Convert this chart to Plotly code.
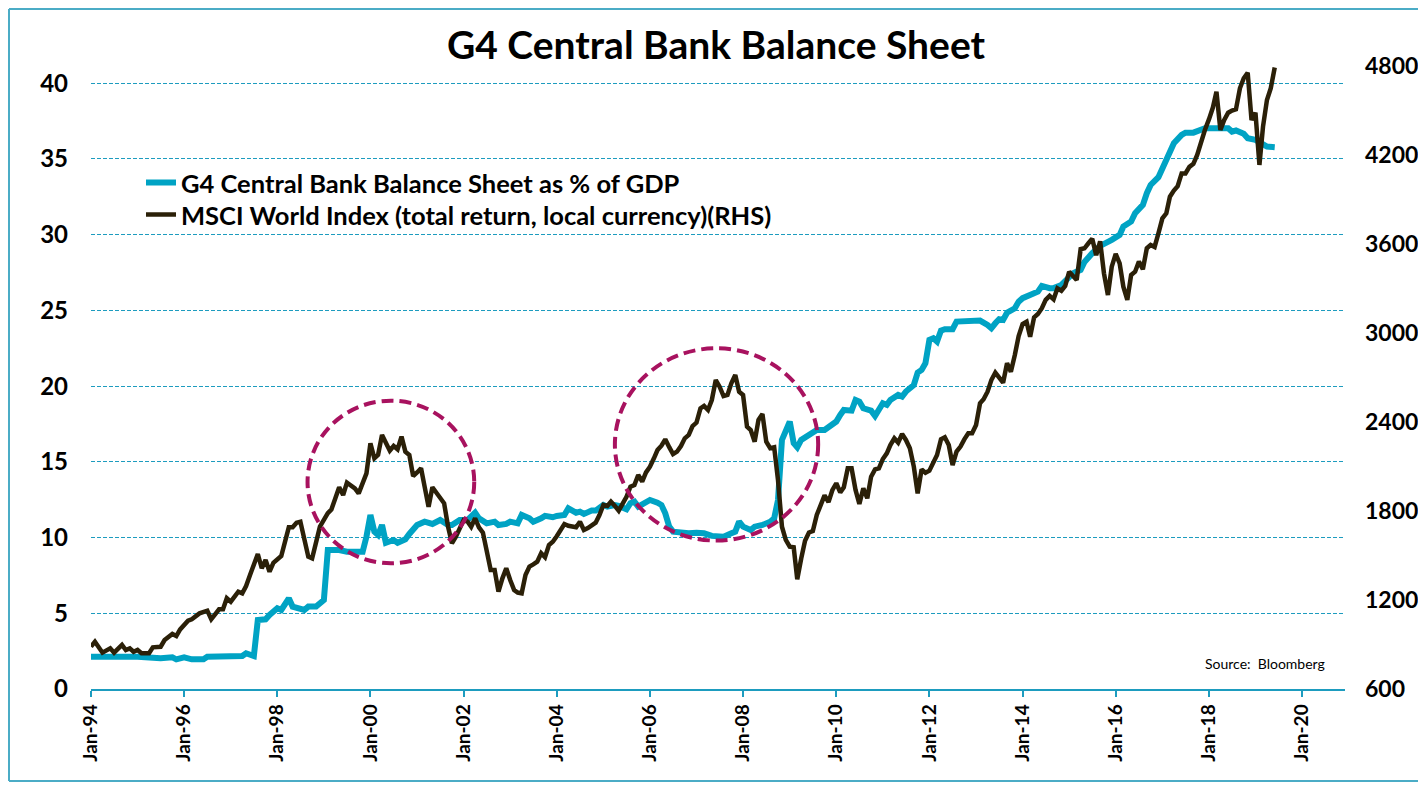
import plotly.graph_objs as go

TITLE = "G4 Central Bank Balance Sheet"
G4_NAME = "G4 Central Bank Balance Sheet as % of GDP"
MSCI_NAME = "MSCI World Index (total return, local currency)(RHS)"
SOURCE = "Source:  Bloomberg"

# G4 balance sheet, % of GDP (left axis)
G4_DATES = [
    "1994-01", "1994-08", "1995-01", "1995-07", "1995-10", "1995-11", "1996-01", "1996-03",
    "1996-06", "1996-07", "1996-12", "1997-04", "1997-05", "1997-07", "1997-08", "1997-10",
    "1997-11", "1998-01", "1998-02", "1998-04", "1998-05", "1998-06", "1998-08", "1998-09",
    "1998-11", "1999-01", "1999-02", "1999-05", "1999-07", "1999-11", "1999-12", "2000-01",
    "2000-02", "2000-03", "2000-04", "2000-05", "2000-07", "2000-08", "2000-10", "2000-11",
    "2001-01", "2001-03", "2001-05", "2001-07", "2001-09", "2001-10", "2001-12", "2002-02",
    "2002-04", "2002-05", "2002-06", "2002-07", "2002-09", "2002-10", "2002-12", "2003-01",
    "2003-03", "2003-04", "2003-06", "2003-07", "2003-09", "2003-10", "2003-12", "2004-01",
    "2004-03", "2004-04", "2004-06", "2004-07", "2004-08", "2004-10", "2004-11", "2005-01",
    "2005-02", "2005-04", "2005-05", "2005-07", "2005-08", "2005-09", "2005-10", "2005-12",
    "2006-01", "2006-03", "2006-04", "2006-05", "2006-06", "2006-07", "2006-09", "2006-11",
    "2007-01", "2007-03", "2007-05", "2007-07", "2007-08", "2007-10", "2007-11", "2007-12",
    "2008-01", "2008-03", "2008-04", "2008-06", "2008-08", "2008-09", "2008-10", "2008-11",
    "2008-12", "2009-01", "2009-02", "2009-03", "2009-04", "2009-06", "2009-08", "2009-10",
    "2009-11", "2010-01", "2010-02", "2010-03", "2010-05", "2010-06", "2010-07", "2010-08",
    "2010-10", "2010-11", "2011-01", "2011-02", "2011-03", "2011-05", "2011-06", "2011-07",
    "2011-09", "2011-10", "2011-11", "2011-12", "2012-01", "2012-02", "2012-03", "2012-04",
    "2012-05", "2012-07", "2012-08", "2012-10", "2012-11", "2013-01", "2013-02", "2013-04",
    "2013-05", "2013-06", "2013-07", "2013-08", "2013-09", "2013-11", "2013-12", "2014-01",
    "2014-03", "2014-04", "2014-05", "2014-06", "2014-08", "2014-09", "2014-11", "2015-01",
    "2015-02", "2015-04", "2015-05", "2015-07", "2015-09", "2015-12", "2016-02", "2016-03",
    "2016-05", "2016-06", "2016-08", "2016-09", "2016-10", "2016-12", "2017-01", "2017-02",
    "2017-03", "2017-04", "2017-06", "2017-07", "2017-09", "2017-11", "2017-12", "2018-03",
    "2018-04", "2018-06", "2018-07", "2018-08", "2018-10", "2018-11", "2019-01", "2019-03",
    "2019-04", "2019-06",
]
G4_VALUES = [
    2.13, 2.18, 2.13, 2.03, 2.09, 1.96, 2.09, 1.96,
    1.96, 2.13, 2.18, 2.18, 2.36, 2.18, 4.56, 4.60,
    4.89, 5.33, 5.22, 5.99, 5.44, 5.33, 5.22, 5.44,
    5.44, 5.88, 9.18, 9.18, 9.07, 9.07, 10.06, 11.49,
    10.39, 10.17, 10.83, 9.66, 9.84, 9.66, 9.89, 10.24,
    10.83, 11.05, 10.90, 11.16, 10.83, 10.83, 11.16, 11.16,
    11.64, 11.27, 11.05, 10.94, 11.05, 10.83, 10.90, 11.05,
    10.94, 11.49, 11.27, 11.05, 11.27, 11.43, 11.34, 11.43,
    11.49, 11.93, 11.64, 11.71, 11.56, 11.78, 11.78, 12.15,
    12.04, 12.15, 12.09, 11.87, 12.27, 12.37, 12.04, 12.27,
    12.48, 12.30, 12.15, 11.60, 10.72, 10.39, 10.32, 10.28,
    10.32, 10.28, 10.11, 10.06, 10.06, 10.28, 10.39, 11.05,
    10.72, 10.50, 10.72, 10.83, 11.05, 11.27, 12.48, 16.45,
    17.00, 17.66, 16.23, 15.96, 16.45, 16.78, 17.11, 17.11,
    17.33, 17.66, 18.10, 18.43, 18.38, 19.09, 18.98, 18.54,
    18.38, 18.03, 18.87, 18.76, 19.09, 19.42, 19.31, 19.64,
    20.08, 20.89, 21.07, 21.51, 23.05, 23.16, 22.94, 23.67,
    23.76, 23.76, 24.26, 24.26, 24.26, 24.33, 24.33, 24.04,
    23.82, 24.15, 24.42, 24.37, 24.85, 25.14, 25.58, 25.81,
    25.96, 26.14, 26.24, 26.62, 26.47, 26.47, 26.68, 27.13,
    27.46, 27.68, 28.20, 28.78, 29.26, 29.66, 29.99, 30.54,
    30.87, 31.42, 31.97, 32.74, 33.29, 33.80, 34.39, 34.94,
    35.42, 36.04, 36.59, 36.74, 36.74, 36.92, 37.03, 37.03,
    37.03, 37.03, 36.81, 36.88, 36.66, 36.37, 36.26, 36.04,
    35.82, 35.78,
]

# MSCI World total return index (right axis)
MSCI_DATES = [
    "1994-01", "1994-02", "1994-04", "1994-06", "1994-07", "1994-09", "1994-10", "1994-11",
    "1994-12", "1995-01", "1995-02", "1995-04", "1995-05", "1995-07", "1995-08", "1995-10",
    "1995-11", "1995-12", "1996-02", "1996-03", "1996-05", "1996-07", "1996-08", "1996-09",
    "1996-10", "1996-11", "1996-12", "1997-01", "1997-03", "1997-04", "1997-05", "1997-06",
    "1997-08", "1997-09", "1997-10", "1997-11", "1997-12", "1998-02", "1998-03", "1998-04",
    "1998-05", "1998-06", "1998-07", "1998-09", "1998-10", "1998-12", "1999-02", "1999-03",
    "1999-04", "1999-05", "1999-06", "1999-07", "1999-09", "1999-10", "1999-12", "2000-01",
    "2000-02", "2000-03", "2000-04", "2000-05", "2000-06", "2000-07", "2000-08", "2000-09",
    "2000-10", "2000-11", "2000-12", "2001-01", "2001-02", "2001-03", "2001-04", "2001-05",
    "2001-06", "2001-07", "2001-08", "2001-09", "2001-10", "2001-11", "2002-01", "2002-02",
    "2002-03", "2002-04", "2002-05", "2002-06", "2002-07", "2002-08", "2002-09", "2002-10",
    "2002-11", "2002-12", "2003-01", "2003-02", "2003-03", "2003-04", "2003-05", "2003-06",
    "2003-07", "2003-08", "2003-09", "2003-10", "2003-11", "2003-12", "2004-01", "2004-02",
    "2004-03", "2004-04", "2004-05", "2004-06", "2004-07", "2004-08", "2004-09", "2004-10",
    "2004-11", "2004-12", "2005-01", "2005-02", "2005-03", "2005-04", "2005-05", "2005-06",
    "2005-07", "2005-08", "2005-09", "2005-10", "2005-11", "2005-12", "2006-01", "2006-02",
    "2006-03", "2006-04", "2006-05", "2006-06", "2006-07", "2006-08", "2006-09", "2006-10",
    "2006-11", "2006-12", "2007-01", "2007-02", "2007-03", "2007-04", "2007-05", "2007-06",
    "2007-07", "2007-08", "2007-09", "2007-10", "2007-11", "2007-12", "2008-01", "2008-02",
    "2008-03", "2008-04", "2008-05", "2008-06", "2008-07", "2008-08", "2008-09", "2008-10",
    "2008-11", "2008-12", "2009-01", "2009-02", "2009-03", "2009-04", "2009-05", "2009-06",
    "2009-07", "2009-08", "2009-09", "2009-10", "2009-11", "2009-12", "2010-01", "2010-02",
    "2010-03", "2010-04", "2010-05", "2010-06", "2010-07", "2010-08", "2010-09", "2010-10",
    "2010-11", "2010-12", "2011-01", "2011-02", "2011-03", "2011-04", "2011-05", "2011-06",
    "2011-07", "2011-08", "2011-09", "2011-10", "2011-11", "2011-12", "2012-01", "2012-02",
    "2012-03", "2012-04", "2012-05", "2012-06", "2012-07", "2012-08", "2012-09", "2012-10",
    "2012-11", "2012-12", "2013-01", "2013-02", "2013-03", "2013-04", "2013-05", "2013-06",
    "2013-07", "2013-08", "2013-09", "2013-10", "2013-11", "2013-12", "2014-01", "2014-02",
    "2014-03", "2014-04", "2014-05", "2014-06", "2014-07", "2014-08", "2014-09", "2014-10",
    "2014-11", "2014-12", "2015-01", "2015-02", "2015-03", "2015-04", "2015-05", "2015-06",
    "2015-07", "2015-08", "2015-09", "2015-10", "2015-11", "2015-12", "2016-01", "2016-02",
    "2016-03", "2016-04", "2016-05", "2016-06", "2016-07", "2016-08", "2016-09", "2016-10",
    "2016-11", "2016-12", "2017-01", "2017-02", "2017-03", "2017-04", "2017-05", "2017-06",
    "2017-07", "2017-08", "2017-09", "2017-10", "2017-11", "2017-12", "2018-01", "2018-02",
    "2018-03", "2018-04", "2018-05", "2018-06", "2018-07", "2018-08", "2018-09", "2018-10",
    "2018-11", "2018-12", "2019-01", "2019-02", "2019-03", "2019-04", "2019-05", "2019-06",
]
MSCI_VALUES = [
    885, 919, 845, 874, 845, 897, 863, 874,
    851, 863, 841, 841, 881, 885, 930, 971,
    957, 1002, 1060, 1070, 1110, 1128, 1070, 1099,
    1137, 1137, 1212, 1189, 1256, 1245, 1294, 1369,
    1510, 1414, 1470, 1391, 1451, 1497, 1605, 1690,
    1690, 1721, 1728, 1492, 1481, 1694, 1785, 1810,
    1886, 1960, 1908, 1991, 1953, 1919, 2054, 2256,
    2155, 2178, 2313, 2252, 2207, 2238, 2216, 2301,
    2200, 2178, 2036, 2060, 2088, 1964, 1829, 1960,
    1919, 1890, 1852, 1694, 1582, 1627, 1739, 1728,
    1694, 1751, 1690, 1654, 1515, 1402, 1402, 1256,
    1346, 1414, 1335, 1267, 1250, 1245, 1369, 1425,
    1440, 1458, 1515, 1488, 1571, 1593, 1630, 1672,
    1712, 1700, 1694, 1690, 1728, 1672, 1685, 1700,
    1721, 1773, 1841, 1834, 1863, 1834, 1802, 1850,
    1896, 1964, 1975, 2043, 1998, 2060, 2099, 2155,
    2211, 2240, 2283, 2230, 2184, 2200, 2238, 2290,
    2313, 2373, 2396, 2492, 2508, 2481, 2548, 2683,
    2638, 2575, 2582, 2661, 2717, 2604, 2582, 2368,
    2346, 2267, 2414, 2454, 2267, 2223, 2229, 2009,
    1694, 1605, 1559, 1555, 1340, 1480, 1600, 1655,
    1665, 1773, 1834, 1905, 1860, 1940, 1987, 1925,
    1960, 2088, 2088, 1942, 1847, 1953, 1886, 2031,
    2081, 2088, 2150, 2189, 2245, 2290, 2261, 2319,
    2279, 2223, 2099, 1919, 2081, 2058, 2072, 2130,
    2178, 2283, 2297, 2245, 2110, 2200, 2234, 2283,
    2324, 2324, 2380, 2526, 2553, 2604, 2683, 2733,
    2700, 2665, 2796, 2739, 2852, 2980, 3060, 3076,
    2975, 3105, 3128, 3167, 3223, 3250, 3227, 3301,
    3285, 3317, 3413, 3384, 3357, 3565, 3571, 3605,
    3635, 3525, 3618, 3402, 3256, 3447, 3533, 3470,
    3312, 3223, 3391, 3413, 3481, 3430, 3571, 3593,
    3580, 3672, 3773, 3807, 3919, 3960, 3990, 4076,
    4076, 4120, 4140, 4200, 4290, 4370, 4440, 4520,
    4627, 4369, 4436, 4485, 4500, 4508, 4650, 4717,
    4755, 4436, 4485, 4133, 4391, 4571, 4650, 4790,
]

FONT = "Lato"
TEAL = "#00a3c4"
DARK = "#2b2008"
GRID = "#1d9cbf"
CIRCLE = "#a8125f"
FRAME = "#4bacc6"

# page body has an 8px margin on every side; keep the page inside the window
OFF = 8
W, H = 1426 - 2 * OFF, 790 - 2 * OFF
# plot area in window pixels: left 91, right 1345, top 66, bottom 689
L, R, T, B = 91 - OFF, 1345 - OFF, 66 - OFF, 689 - OFF


def px_x(p):
    # window pixel -> paper x
    return (p - OFF - L) / (R - L)


def px_y(p):
    # window pixel -> paper y
    return (B - (p - OFF)) / (B - T)


fig = go.Figure()
fig.add_trace(go.Scatter(
    x=G4_DATES, y=G4_VALUES, name=G4_NAME, mode="lines",
    line=dict(color=TEAL, width=6), legend="legend",
))
fig.add_trace(go.Scatter(
    x=MSCI_DATES, y=MSCI_VALUES, name=MSCI_NAME, mode="lines", yaxis="y2",
    line=dict(color=DARK, width=4.5), legend="legend2",
))

# the two highlighted regions
for x0, x1, y0, y1 in [("1998-08-26", "2002-03-25", 8.3, 19.04),
                       ("2005-04-01", "2009-08-12", 9.8, 22.5)]:
    fig.add_shape(type="circle", xref="x", yref="y", x0=x0, x1=x1, y0=y0, y1=y1,
                  line=dict(color=CIRCLE, width=4, dash="12px,6px"), layer="above")

# outer frame: left, top and bottom edges, as close to the page edge as the figure allows
left, top, right, bottom = px_x(9), px_y(9), px_x(1418), px_y(OFF + H - 1)
for x0, y0, x1, y1 in [(left, bottom, left, top), (left, top, right, top),
                       (left, bottom, right, bottom)]:
    fig.add_shape(type="line", xref="paper", yref="paper", x0=x0, y0=y0, x1=x1, y1=y1,
                  line=dict(color=FRAME, width=2))

fig.add_annotation(text=SOURCE, xref="paper", yref="paper", x=px_x(1327), y=px_y(663),
                   xanchor="right", yanchor="middle", showarrow=False,
                   font=dict(family=FONT, size=14, color="#000000"))

legend_style = dict(xanchor="left", yanchor="middle", bgcolor="rgba(0,0,0,0)",
                    font=dict(size=25.5, color="#000000", weight="bold"), itemwidth=30)

fig.update_layout(
    width=W, height=H,
    margin=dict(l=L, r=W - R, t=T, b=H - B, autoexpand=False),
    paper_bgcolor="white", plot_bgcolor="white",
    font=dict(family=FONT, color="#000000"),
    title=dict(text="<b>" + TITLE + "</b>", x=px_x(716), xanchor="center", xref="paper",
               y=1 - (45 - OFF) / H, yanchor="middle", font=dict(size=39, color="#000000")),
    showlegend=True,
    legend=dict(x=px_x(141), y=px_y(183), **legend_style),
    legend2=dict(x=px_x(141), y=px_y(215), **legend_style),
    xaxis=dict(
        type="date", range=["1994-01-01", "2020-12-03"], automargin=False,
        tick0="1994-01-01", dtick="M24", tickformat="%b-%y", tickangle=-90,
        showgrid=False, showline=True, linecolor=GRID, linewidth=1.5,
        ticks="outside", ticklen=6, tickcolor=GRID, tickwidth=1.5,
        tickfont=dict(size=19, weight="bold"), zeroline=False,
    ),
    yaxis=dict(
        range=[0, 41.14], tick0=0, dtick=5, showline=False, zeroline=False, automargin=False,
        showgrid=True, gridcolor=GRID, gridwidth=1, griddash="4px,2px",
        ticks="", ticklabelstandoff=22, tickfont=dict(size=24, weight="bold"),
    ),
    yaxis2=dict(
        overlaying="y", side="right", range=[600, 4800], tick0=600, dtick=600,
        showgrid=False, showline=False, zeroline=False, automargin=False,
        ticks="", ticklabelstandoff=19, tickfont=dict(size=23, weight="bold"),
    ),
)

fig.write_html("out.html")
